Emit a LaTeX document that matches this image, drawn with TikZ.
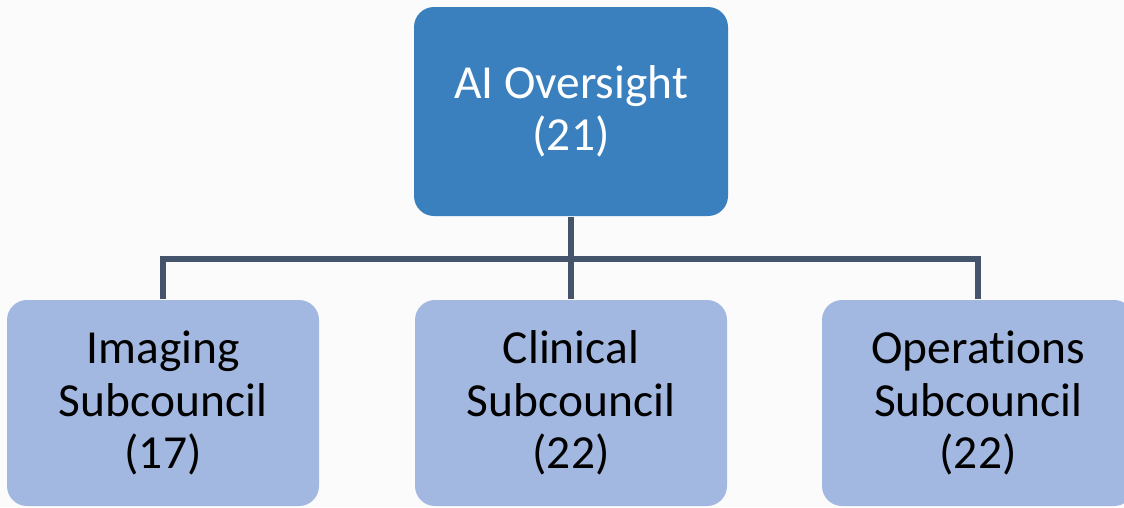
\documentclass[tikz,border=0pt]{standalone}
\usepackage{fontspec}
\setmainfont[Ligatures=NoCommon]{Carlito}
\usetikzlibrary{positioning,calc}
\definecolor{topcolor}{RGB}{58,128,191}
\definecolor{subcolor}{RGB}{162,184,224}
\definecolor{linkcolor}{RGB}{68,84,106}
\definecolor{bgcolor}{RGB}{251,251,251}

\begin{document}
\begin{tikzpicture}[
    box/.style={rectangle, rounded corners=0.2cm, inner sep=0pt, align=center,
        font=\fontsize{13.5}{14.9}\selectfont},
    topbox/.style={box, fill=topcolor, text=white, minimum width=3.14cm, minimum height=2.09cm},
    subbox/.style={box, fill=subcolor, text=black, minimum width=3.12cm, minimum height=2.06cm},
    link/.style={draw=linkcolor, line width=0.06cm}
]

% Background / page size
\fill[bgcolor] (0,0) rectangle (11.24,5.07);
\useasboundingbox (0,0) rectangle (11.24,5.07);

% Council
\node[topbox] (oversight) at (5.71,3.955) {AI Oversight\\(21)};

% Subcouncils
\node[subbox] (imaging) at (1.63,1.04) {Imaging\\Subcouncil\\(17)};
\node[subbox] (clinical) at (5.71,1.04) {Clinical\\Subcouncil\\(22)};
\node[subbox] (operations) at (9.78,1.04) {Operations\\Subcouncil\\(22)};

% Connectors
\coordinate (bus) at (5.71,2.48);
\draw[link] (oversight.south) -- (clinical.north);
\draw[link] (imaging.north) -- (imaging.north |- bus) -- (operations.north |- bus) -- (operations.north);

\end{tikzpicture}
\end{document}
